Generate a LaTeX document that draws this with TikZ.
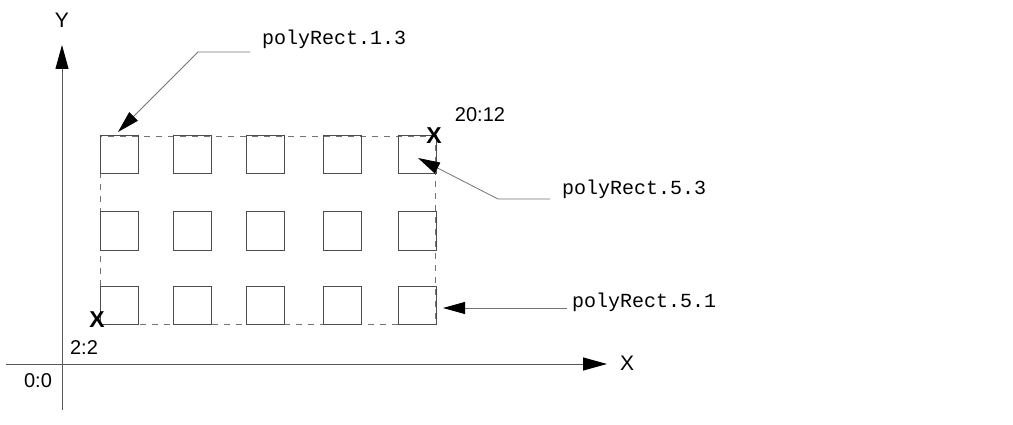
\documentclass[tikz,border=0pt]{standalone}
\usepackage{fontspec}
\setmainfont{Liberation Sans}
\newfontfamily\monofnt{Liberation Mono}
\usetikzlibrary{arrows.meta}
\begin{document}
\begin{tikzpicture}[x=1pt,y=-1pt,
  axis/.style={draw=black!65,line width=1pt,-{Triangle[length=24pt,width=13pt,black]}},
  leader/.style={draw=black!55,line width=0.8pt,-{Triangle[length=22pt,width=12pt,black]}},
  cell/.style={draw=black!70,line width=1pt,minimum width=38pt,minimum height=38pt,inner sep=0pt},
  frame/.style={draw=black!55,line width=0.9pt,dash pattern=on 6pt off 6pt},
  lbl/.style={font=\fontsize{20}{23}\selectfont,inner sep=0pt},
  axlbl/.style={font=\fontsize{21}{24}\selectfont,inner sep=0pt},
  xmark/.style={font=\bfseries\fontsize{23}{26}\selectfont,inner sep=0pt},
  code/.style={font=\monofnt\fontsize{20}{22}\selectfont,inner sep=0pt,anchor=west}]
\useasboundingbox (0,0) rectangle (1013,425);
% axes
\coordinate (yb) at (62,410);
\coordinate (yt) at (62,45);
\coordinate (xl) at (6,364);
\coordinate (xr) at (607,364);
\draw[axis] (yb) -- (yt);
\draw[axis] (xl) -- (xr);
\node[axlbl] (ylab) at (62,20) {Y};
\node[axlbl] (xlab) at (627,363) {X};
\node[lbl] (o) at (38,381) {0:0};
% dashed frame
\coordinate (f1) at (100,136);
\coordinate (f2) at (435,324);
\draw[frame] (f1) rectangle (f2);
% cells
\foreach \c/\x in {1/119.5,2/192.5,3/265,4/342.5,5/417}{
  \foreach \r/\y in {3/155,2/231,1/305.5}{
    \node[cell] (s\c\r) at (\x,\y) {};
  }
}
% markers
\node[xmark] (m1) at (97,320) {X};
\node[xmark] (m2) at (434,136) {X};
\node[lbl] (p1) at (84,348) {2:2};
\node[lbl] (p2) at (480,115) {20:12};
% callouts
\node[code] (t13) at (262,39) {polyRect.1.3};
\node[code] (t53) at (562,189) {polyRect.5.3};
\node[code] (t51) at (572,302) {polyRect.5.1};
\coordinate (b13) at (250,52);
\coordinate (k13) at (198,52);
\coordinate (a13) at (118,132);
\coordinate (b53) at (550,199);
\coordinate (k53) at (498,199);
\coordinate (a53) at (418,158);
\coordinate (b51) at (567,308);
\coordinate (a51) at (443,308);
\draw[leader] (b13) -- (k13) -- (a13);
\draw[leader] (b53) -- (k53) -- (a53);
\draw[leader] (b51) -- (a51);
\end{tikzpicture}
\end{document}
